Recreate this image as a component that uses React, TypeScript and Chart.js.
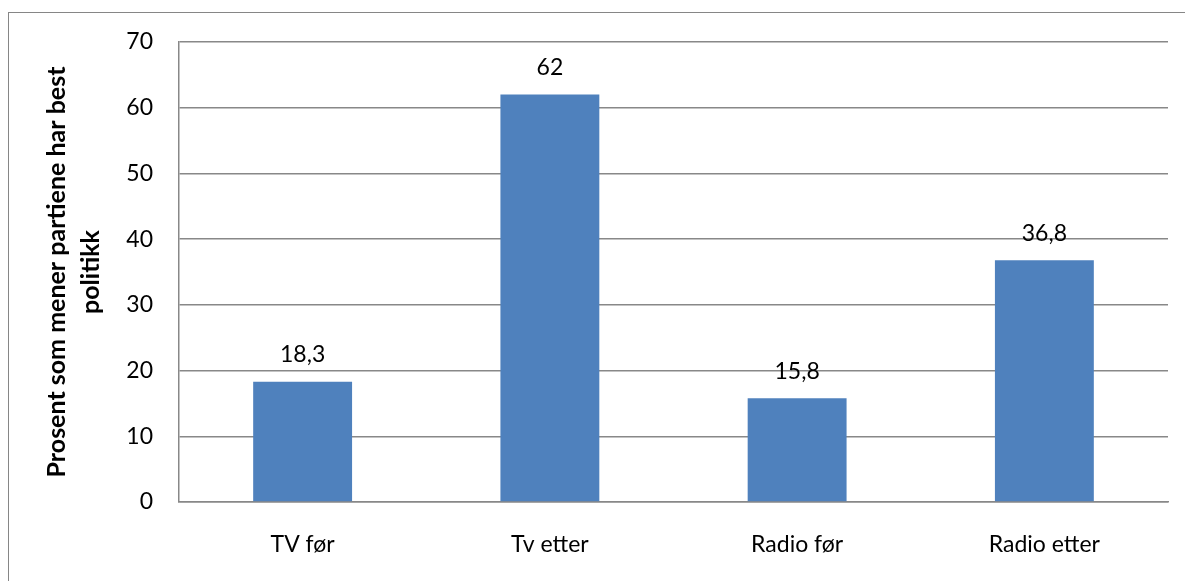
import React, { useEffect, useRef } from "react";
import { Chart, registerables } from "chart.js";

Chart.register(...registerables);

const categories: string[] = ["TV før", "Tv etter", "Radio før", "Radio etter"];
const values: number[] = [18.3, 62, 15.8, 36.8];
const yTitle: string[] = ["Prosent som mener partiene har best", "politikk"];
const yMin = 0;
const yMax = 70;
const yStep = 10;

const FONT = "Lato, 'Noto Sans', sans-serif";
const GRID = "#888888";

const framePlugin = {
  id: "frame",
  beforeDraw(chart: any) {
    const ctx = chart.ctx;
    ctx.save();
    ctx.fillStyle = "#ffffff";
    ctx.fillRect(0, 0, chart.width, chart.height);
    ctx.strokeStyle = "#868686";
    ctx.lineWidth = 1;
    ctx.strokeRect(8.5, 12.5, chart.width + 20, chart.height + 20);
    ctx.restore();
  },
};

const labelPlugin = {
  id: "barLabels",
  afterDatasetsDraw(chart: any) {
    const ctx = chart.ctx;
    const meta = chart.getDatasetMeta(0);
    ctx.save();
    ctx.fillStyle = "#000000";
    ctx.font = `23px ${FONT}`;
    ctx.textAlign = "center";
    ctx.textBaseline = "middle";
    meta.data.forEach((bar: any, i: number) => {
      const v = chart.data.datasets[0].data[i] as number;
      ctx.fillText(String(v).replace(".", ","), bar.x, bar.y - 27);
    });
    ctx.restore();
  },
};

export default function App() {
  const ref = useRef<HTMLCanvasElement | null>(null);
  useEffect(() => {
    if (!ref.current) return;
    const chart = new Chart(ref.current, {
      type: "bar",
      data: {
        labels: categories,
        datasets: [
          {
            data: values,
            backgroundColor: "#4F81BD",
            borderWidth: 0,
            categoryPercentage: 1,
            barPercentage: 0.4,
          },
        ],
      },
      options: {
        responsive: false,
        animation: false,
        layout: { padding: { left: 0, top: 42, right: 17, bottom: 0 } },
        plugins: {
          legend: { display: false },
          tooltip: { enabled: false },
        },
        scales: {
          x: {
            grid: { display: false, drawTicks: false },
            border: { display: true, color: GRID, width: 1.5 },
            ticks: {
              color: "#000000",
              font: { family: FONT, size: 23 },
              padding: 29,
              maxRotation: 0,
            },
            afterFit: (s: any) => {
              s.height = 79;
            },
          },
          y: {
            min: yMin,
            max: yMax,
            grid: { color: GRID, lineWidth: 1.5, drawTicks: false },
            border: { display: true, color: GRID, width: 1.5 },
            ticks: {
              stepSize: yStep,
              color: "#000000",
              font: { family: FONT, size: 23 },
              padding: 26,
            },
            title: {
              display: true,
              text: yTitle,
              color: "#000000",
              font: { family: FONT, size: 25, weight: "bold", lineHeight: 1.36 },
              padding: { top: 40, bottom: 0 },
            },
            afterFit: (s: any) => {
              s.width = 179;
            },
          },
        },
      },
      plugins: [framePlugin, labelPlugin],
    });
    return () => chart.destroy();
  }, []);
  return (
    <div style={{ position: "fixed", left: 0, top: 0, width: 1185, height: 581 }}>
      <canvas ref={ref} width={1185} height={581} />
    </div>
  );
}
